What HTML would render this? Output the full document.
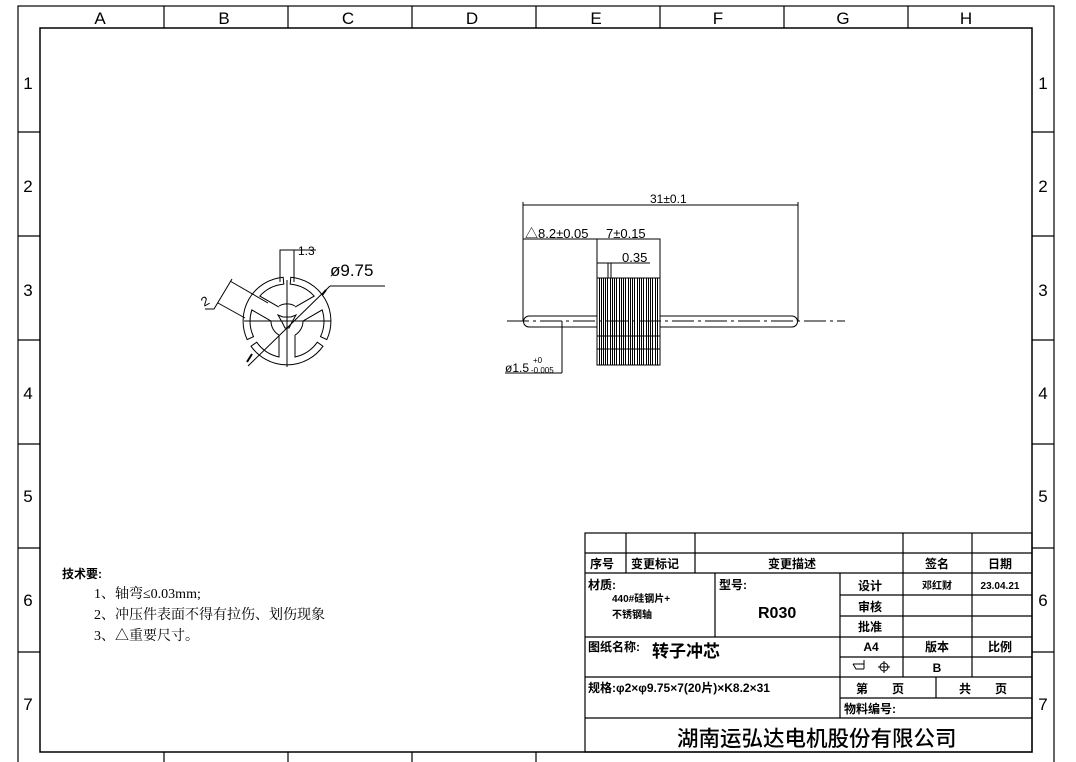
<!DOCTYPE html>
<html><head><meta charset="utf-8"><style>
html,body{margin:0;padding:0;background:#fff;}
svg{display:block;}
text{font-family:"Liberation Sans","Noto Sans CJK SC",sans-serif;fill:#000;}
.c{font-family:"Liberation Serif","Noto Serif CJK SC",serif;}
.b{font-family:"Liberation Sans","Noto Sans CJK SC",sans-serif;font-weight:bold;}
</style></head><body>
<svg width="1076" height="762" viewBox="0 0 1076 762" xmlns="http://www.w3.org/2000/svg">
<g fill="none" stroke="#000" stroke-width="1.2">
<rect x="18" y="6" width="1036" height="770"/>
<rect x="40" y="28" width="992" height="724" stroke-width="1.5"/>
<path d="M164 6V28M288 6V28M412 6V28M536 6V28M660 6V28M784 6V28M908 6V28"/>
<path d="M164 752V762M288 752V762M412 752V762M536 752V762"/>
<path d="M18 132H40M18 236H40M18 340H40M18 444H40M18 548H40M18 652H40"/>
<path d="M1032 132H1054M1032 236H1054M1032 340H1054M1032 444H1054M1032 548H1054M1032 652H1054"/>
</g>
<g font-size="17" text-anchor="middle" style="font-family:'DejaVu Sans',sans-serif">
<text x="100" y="24">A</text><text x="224" y="24">B</text><text x="348" y="24">C</text><text x="472" y="24">D</text>
<text x="596" y="24">E</text><text x="718" y="24">F</text><text x="843" y="24">G</text><text x="966" y="24">H</text>
<text x="28" y="89">1</text><text x="28" y="192">2</text><text x="28" y="296">3</text><text x="28" y="399">4</text><text x="28" y="502">5</text><text x="28" y="606">6</text><text x="28" y="710">7</text>
<text x="1043" y="89">1</text><text x="1043" y="192">2</text><text x="1043" y="296">3</text><text x="1043" y="399">4</text><text x="1043" y="502">5</text><text x="1043" y="606">6</text><text x="1043" y="710">7</text>
</g>

<!-- left rotor -->
<g fill="none" stroke="#000" stroke-width="1">
<path d="M244 321H331M287 280V367"/>
<g transform="translate(287,321)">
<path d="M8 14V36A37 37 0 0 0 30.3 21.2L36 25.2A44 44 0 0 1 -36 25.2L-30.3 21.2A37 37 0 0 0 -8 36V14"/>
<g transform="rotate(120)"><path d="M8 14V36A37 37 0 0 0 30.3 21.2L36 25.2A44 44 0 0 1 -36 25.2L-30.3 21.2A37 37 0 0 0 -8 36V14"/></g>
<g transform="rotate(240)"><path d="M8 14V36A37 37 0 0 0 30.3 21.2L36 25.2A44 44 0 0 1 -36 25.2L-30.3 21.2A37 37 0 0 0 -8 36V14"/></g>
<path d="M-8 14A16 16 0 0 1 -16 0M8 14A16 16 0 0 0 16 0M-8 -15A16 16 0 0 1 8 -15" />
<path d="M-4 -4L-9 -6L-5 1L-2 7L2 7L5 1L9 -6L4 -4Z"/>
</g>
<path d="M280 282V250H294V282"/>
<path d="M294 250H316"/>
<path d="M248 366L330 286M330 286H385"/>
<path d="M247 362L252 354" stroke-width="2"/>
<path d="M326 290L322 295" stroke-width="2"/>
<path d="M230 281L268 303M218 303L245 318M232 279L214 309H205"/>
</g>
<text x="298" y="255" font-size="12">1.3</text>
<text x="330" y="276" font-size="17">ø9.75</text>
<text x="201" y="305" font-size="13" transform="rotate(-30 206 300)">2</text>

<!-- right shaft -->
<g fill="none" stroke="#000" stroke-width="1">
<path d="M507 321H845" stroke-dasharray="22 4 3 4"/>
<path d="M597 316H529A5.5 5.5 0 0 0 529 327H597M660 316H792A5.5 5.5 0 0 1 792 327H660"/>
<rect x="597" y="278" width="63" height="87"/>
<path d="M523 321V202M798 321V202M523 205H798M523 239H597M597 239V278M597 239H660V278M597 263H650M608 263V278M611 263V278"/>
<path d="M562 321V373M505 373H562"/>
</g>
<g stroke="#000" stroke-width="1">
<path d="M599.5 278V365M601.5 278V365M603.5 278V365M605.5 278V365M607.5 278V365M610.5 278V365M612.5 278V365M614.5 278V365M616.5 278V365M619.5 278V365M621.5 278V365M623.5 278V365M625.5 278V365M628.5 278V365M630.5 278V365M632.5 278V365M634.5 278V365M637.5 278V365M639.5 278V365M641.5 278V365M643.5 278V365M646.5 278V365M648.5 278V365M650.5 278V365M652.5 278V365M655.5 278V365M657.5 278V365"/>
<path d="M597 336H660M597 349H660"/>
</g>
<text x="650" y="203" font-size="12">31±0.1</text>
<text x="525" y="238" font-size="13">△8.2±0.05</text>
<text x="606" y="238" font-size="13">7±0.15</text>
<text x="622" y="262" font-size="13">0.35</text>
<text x="505" y="372" font-size="12">ø1.5</text>
<text x="533" y="363" font-size="8">+0</text>
<text x="531" y="373" font-size="8">-0.005</text>

<!-- notes -->
<text x="62" y="578" font-size="12" class="b">技术要:</text>
<text x="94" y="598" font-size="14" class="c">1、轴弯≤0.03mm;</text>
<text x="94" y="619" font-size="14" class="c">2、冲压件表面不得有拉伤、划伤现象</text>
<text x="94" y="640" font-size="14" class="c">3、△重要尺寸。</text>

<!-- title block -->
<g fill="none" stroke="#000" stroke-width="1.2">
<rect x="585" y="533" width="447" height="219"/>
<path d="M585 553H1032M585 573H1032M585 637H1032M585 677H1032M585 718H1032"/>
<path d="M626 533V573M695 533V573M903 533V573M972 533V573"/>
<path d="M715 573V637M840 573V718M903 573V677M972 573V677M840 595H1032M840 616H1032M840 657H1032M840 698H1032M936 677V698"/>
</g>
<g font-size="12" class="b" text-anchor="middle">
<text x="602" y="568">序号</text><text x="655" y="568">变更标记</text><text x="792" y="568">变更描述</text>
<text x="937" y="568">签名</text><text x="1000" y="568">日期</text>
<text x="870" y="590">设计</text><text x="937" y="589" font-size="10">邓红财</text><text x="1000" y="589" font-size="10">23.04.21</text>
<text x="870" y="611">审核</text><text x="870" y="631">批准</text>
<text x="871" y="651">A4</text><text x="937" y="651">版本</text><text x="1000" y="651">比例</text>
<text x="937" y="672">B</text>
<text x="880" y="693">第　　页</text><text x="983" y="693">共　　页</text>
</g>
<g font-size="12" class="b">
<text x="588" y="589">材质:</text>
<text x="612" y="602" font-size="10">440#硅钢片+</text>
<text x="612" y="618" font-size="10">不锈钢轴</text>
<text x="719" y="589">型号:</text>
<text x="758" y="618" font-size="16">R030</text>
<text x="588" y="651">图纸名称:</text>
<text x="652" y="657" font-size="17">转子冲芯</text>
<text x="588" y="692">规格:φ2×φ9.75×7(20片)×K8.2×31</text>
<text x="844" y="713">物料编号:</text>
</g>
<text x="677" y="746" font-size="21.5" font-weight="500" style="font-family:'Noto Sans CJK SC',sans-serif">湖南运弘达电机股份有限公司</text>
<g fill="none" stroke="#000" stroke-width="1">
<path d="M853 664H864M853 664L856 669H864M864 660V669"/>
<circle cx="884" cy="667" r="4"/><path d="M878 667H890M884 661V673"/>
</g>
</svg>
</body></html>
